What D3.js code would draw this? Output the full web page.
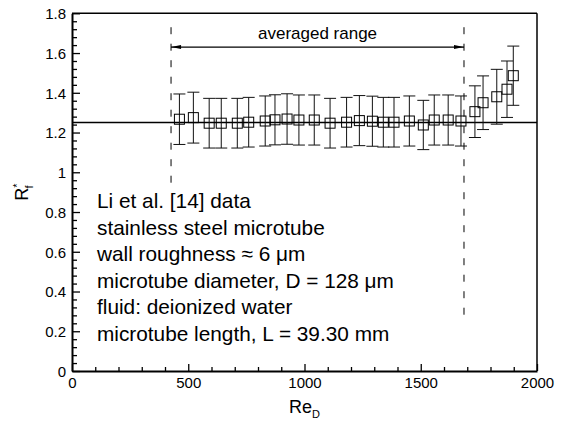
<!DOCTYPE html>
<html><head><meta charset="utf-8">
<script src="https://cdn.jsdelivr.net/npm/d3@7"></script>
<style>
html,body{margin:0;padding:0;background:#fff;}
svg{display:block;font-family:"Liberation Sans",Arial,sans-serif;}
</style></head>
<body>
<svg id="chart" width="569" height="425"></svg>
<script>
// Data
const reynolds = [462,522,590,642,711,760,831,873,925,976,1042,1110,1181,1236,1292,1339,1385,1451,1511,1558,1618,1673,1733,1768,1827,1871,1898];
const rfValues = [1.267,1.275,1.247,1.247,1.247,1.252,1.258,1.264,1.268,1.263,1.263,1.247,1.252,1.260,1.257,1.252,1.252,1.258,1.238,1.263,1.263,1.258,1.305,1.350,1.380,1.418,1.486];
const rfErrors = [0.127,0.128,0.125,0.125,0.125,0.125,0.126,0.126,0.127,0.126,0.126,0.125,0.125,0.126,0.126,0.125,0.125,0.126,0.124,0.126,0.126,0.126,0.130,0.135,0.138,0.142,0.149];
const averageLine = 1.25;
const averagedRange = [426, 1686];
const xTicks = [0,500,1000,1500,2000];
const yTicks = [0,0.2,0.4,0.6,0.8,1,1.2,1.4,1.6,1.8];
const notes = ["Li et al. [14] data","stainless steel microtube","wall roughness \u2248 6 \u03bcm","microtube diameter, D = 128 \u03bcm","fluid: deionized water","microtube length, L = 39.30 mm"];

const svg = d3.select("#chart");
const L = 72, R = 537, T = 13.3, B = 371;
const x = d3.scaleLinear().domain([0,2000]).range([L,R]);
const y = d3.scaleLinear().domain([0,1.8]).range([B,T]);

const fmt = d => String(+d.toFixed(2));

// minor ticks
const xMinor = d3.range(0,2001,100).filter(v => v%500!==0);
const yMinor = d3.range(0,91,2).map(v=>v/50).filter(v => Math.round(v*50)%10!==0);

svg.append("g").attr("transform",`translate(0,${B})`)
  .call(d3.axisBottom(x).tickValues(xMinor).tickSize(-4).tickFormat(""))
  .call(g=>g.select(".domain").remove())
  .selectAll("line").attr("stroke","#000").attr("stroke-width",1.3);
svg.append("g").attr("transform",`translate(${L},0)`)
  .call(d3.axisLeft(y).tickValues(yMinor).tickSize(-5).tickFormat(""))
  .call(g=>g.select(".domain").remove())
  .selectAll("line").attr("stroke","#000").attr("stroke-width",1.3);

const xa = svg.append("g").attr("transform",`translate(0,${B})`)
  .call(d3.axisBottom(x).tickValues(xTicks).tickSize(-7).tickSizeOuter(0).tickPadding(6).tickFormat(fmt));
const ya = svg.append("g").attr("transform",`translate(${L},0)`)
  .call(d3.axisLeft(y).tickValues(yTicks).tickSize(-8).tickSizeOuter(0).tickPadding(6).tickFormat(fmt));
[xa,ya].forEach(g=>{
  g.select(".domain").attr("stroke","#000").attr("stroke-width",2);
  g.selectAll(".tick line").attr("stroke","#000").attr("stroke-width",1.3);
  g.selectAll(".tick text").attr("fill","#000").style("font-size","15px").style("font-family","Liberation Sans, Arial, sans-serif");
});
ya.selectAll(".tick text").attr("dy","0.35em");

// top & right frame
svg.append("line").attr("x1",L).attr("x2",R).attr("y1",T).attr("y2",T).attr("stroke","#000").attr("stroke-width",1.5);
svg.append("line").attr("x1",R).attr("x2",R).attr("y1",T).attr("y2",B).attr("stroke","#000").attr("stroke-width",1.5);

// average horizontal line
svg.append("line").attr("x1",L).attr("x2",R).attr("y1",y(averageLine)).attr("y2",y(averageLine))
  .attr("stroke","#000").attr("stroke-width",1.5);

// dashed range lines
svg.append("line").attr("x1",x(averagedRange[0])).attr("x2",x(averagedRange[0]))
  .attr("y1",y(1.73)).attr("y2",y(0.929)).attr("stroke","#000").attr("stroke-width",1).attr("stroke-dasharray","7,9.5");
svg.append("line").attr("x1",x(averagedRange[1])).attr("x2",x(averagedRange[1]))
  .attr("y1",y(1.73)).attr("y2",y(0.267)).attr("stroke","#000").attr("stroke-width",1).attr("stroke-dasharray","7,9.5");

// arrow
const ay = y(1.63);
const x1 = x(averagedRange[0]), x2 = x(averagedRange[1]);
svg.append("line").attr("x1",x1).attr("x2",x2).attr("y1",ay).attr("y2",ay).attr("stroke","#000").attr("stroke-width",1.2);
svg.append("path").attr("d",`M${x1},${ay} L${x1+10},${ay-2} L${x1+10},${ay+2} Z`).attr("fill","#000");
svg.append("path").attr("d",`M${x2},${ay} L${x2-10},${ay-2} L${x2-10},${ay+2} Z`).attr("fill","#000");
svg.append("text").attr("x",(x1+x2)/2).attr("y",39).attr("text-anchor","middle")
  .style("font-size","17px").text("averaged range");

// error bars
const pts = reynolds.map((r,i)=>({r, v:rfValues[i], e:rfErrors[i]}));
const eb = svg.append("g").attr("stroke","#111").attr("stroke-width",1);
pts.forEach(p=>{
  const cx = x(p.r);
  eb.append("line").attr("x1",cx).attr("x2",cx).attr("y1",y(p.v+p.e)).attr("y2",y(p.v-p.e));
  eb.append("line").attr("x1",cx-6).attr("x2",cx+6).attr("y1",y(p.v+p.e)).attr("y2",y(p.v+p.e));
  eb.append("line").attr("x1",cx-6).attr("x2",cx+6).attr("y1",y(p.v-p.e)).attr("y2",y(p.v-p.e));
});
svg.append("g").selectAll("rect").data(pts).join("rect")
  .attr("x",d=>x(d.r)-5).attr("y",d=>y(d.v)-5).attr("width",10).attr("height",10)
  .attr("fill","none").attr("stroke","#000").attr("stroke-width",1);

// annotation text
svg.append("g").selectAll("text").data(notes).join("text")
  .attr("x",97).attr("y",(d,i)=>208+i*26.5)
  .style("font-size","20.8px").attr("fill","#000").text(d=>d);

// x axis title
const xt = svg.append("text").attr("x",(L+R)/2).attr("y",413).attr("text-anchor","middle").style("font-size","18px");
xt.append("tspan").text("Re");
xt.append("tspan").attr("dy",5).style("font-size","11px").text("D");

// y axis title
const yt = svg.append("text").attr("transform",`translate(28,${(T+B)/2}) rotate(-90)`).attr("text-anchor","middle").style("font-size","18px");
yt.append("tspan").text("R");
yt.append("tspan").attr("dy",-7).style("font-size","11px").text("*");
yt.append("tspan").attr("dx",-5).attr("dy",12).style("font-size","11px").text("f");
</script>
</body></html>
